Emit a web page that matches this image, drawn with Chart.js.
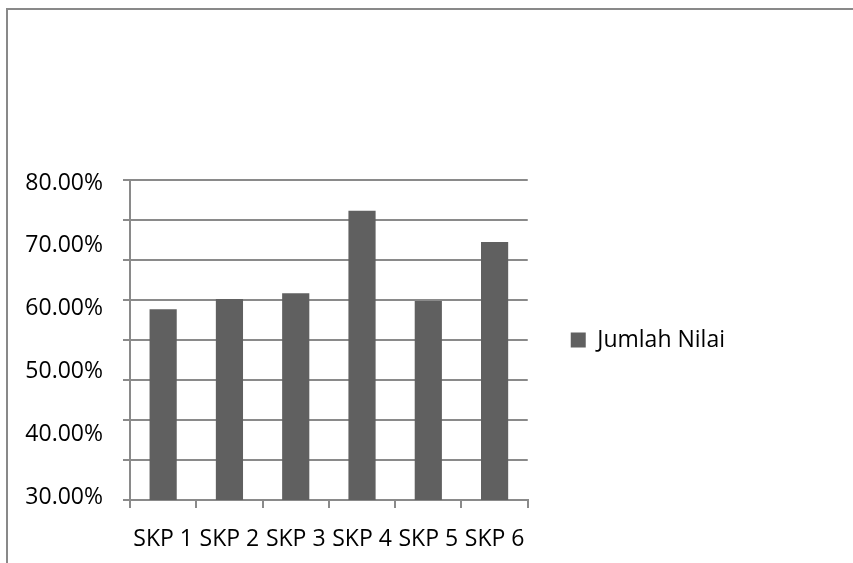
<!DOCTYPE html>
<html>
<head>
<meta charset="utf-8">
<script src="https://cdn.jsdelivr.net/npm/chart.js@4.4.1/dist/chart.umd.min.js"></script>
<style>
  html, body { margin: 0; padding: 0; background: #fff; width: 853px; height: 563px; overflow: hidden; }
  #frame { position: absolute; left: 6px; top: 8px; width: 900px; height: 600px;
           border-top: 2px solid #898989; border-left: 2px solid #898989; }
  canvas { position: absolute; left: 0; top: 0; }
</style>
</head>
<body>
<div id="frame"></div>
<canvas id="chart" width="853" height="563"></canvas>
<script>
// Chart data
const categories = ['SKP 1', 'SKP 2', 'SKP 3', 'SKP 4', 'SKP 5', 'SKP 6'];
const seriesName = 'Jumlah Nilai';
const jumlahNilai = [59.8, 61.4, 62.3, 75.2, 61.1, 70.3];
const tickLabels = [30, 40, 50, 60, 70, 80];
const axisMin = 30;
const axisMax = 80;
const gridDivisions = 8;

const FONT = "'Open Sans', 'Noto Sans', sans-serif";
const GRID = '#8a8a8a';
const BAR = '#606060';

new Chart(document.getElementById('chart'), {
  type: 'bar',
  data: {
    labels: categories,
    datasets: [{
      label: seriesName,
      data: jumlahNilai,
      backgroundColor: BAR,
      borderWidth: 0,
      barPercentage: 0.41,
      categoryPercentage: 1.0,
      yAxisID: 'y'
    }]
  },
  options: {
    responsive: false,
    animation: false,
    layout: { padding: { left: 0, top: 180, right: 118, bottom: 0 } },
    plugins: {
      tooltip: { enabled: false },
      legend: {
        position: 'right',
        fullSize: false,
        maxWidth: 400,
        labels: {
          boxWidth: 15,
          boxHeight: 15,
          padding: 43,
          color: '#000',
          font: { family: FONT, size: 23 }
        }
      }
    },
    scales: {
      x: {
        offset: true,
        grid: {
          offset: true,
          drawOnChartArea: false,
          drawTicks: true,
          tickLength: 8,
          color: GRID,
          lineWidth: 2
        },
        border: { display: true, color: GRID, width: 2 },
        ticks: { color: '#000', font: { family: FONT, size: 23 }, padding: 18, maxRotation: 0, autoSkip: false },
        afterFit: s => { s.height = 63; }
      },
      // value axis: carries the bars and the gridlines
      y: {
        position: 'left',
        weight: 0,
        min: axisMin,
        max: axisMax,
        afterBuildTicks: s => {
          const step = (axisMax - axisMin) / gridDivisions;
          s.ticks = Array.from({ length: gridDivisions + 1 }, (_, i) => ({ value: axisMin + i * step }));
        },
        grid: { color: GRID, lineWidth: 2, drawTicks: true, tickLength: 7 },
        border: { display: true, color: GRID, width: 2 },
        ticks: { display: false }
      },
      // label axis: percentage text beside the value axis
      yl: {
        position: 'left',
        weight: 1,
        min: 29.52,
        max: 80.48,
        afterBuildTicks: s => { s.ticks = tickLabels.map(v => ({ value: v })); },
        grid: { display: false, drawTicks: false },
        border: { display: false },
        ticks: {
          color: '#000',
          font: { family: FONT, size: 23 },
          padding: 20,
          callback: v => Number(v).toFixed(2) + '%'
        },
        afterFit: s => { s.width = 123; }
      }
    }
  }
});
</script>
</body>
</html>
